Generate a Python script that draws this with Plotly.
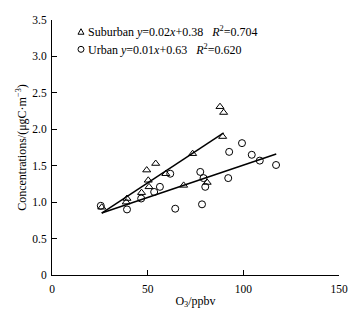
import plotly.graph_objects as go
import numpy as np

# Suburban (triangles)
sub_x = [26.0, 38.8, 39.2, 46.8, 49.5, 50.3, 50.7, 54.2, 59.5, 68.8, 73.5, 81.1, 87.8, 89.2, 89.7]
sub_y = [0.93, 1.00, 1.05, 1.13, 1.44, 1.30, 1.21, 1.53, 1.39, 1.23, 1.665, 1.27, 2.31, 1.90, 2.23]
# Urban (circles)
urb_x = [25.5, 39.2, 46.6, 53.4, 56.4, 61.8, 64.4, 77.5, 78.4, 79.2, 80.1, 92.1, 92.6, 99.3, 104.4, 108.6, 117.1]
urb_y = [0.95, 0.90, 1.05, 1.14, 1.21, 1.39, 0.91, 1.415, 0.97, 1.33, 1.21, 1.33, 1.69, 1.81, 1.65, 1.57, 1.51]

# fitted lines as drawn (slope, intercept, x-range)
sub_fit = [0.01727, 0.401]
sub_fit_x = [26.0, 89.7]
urb_fit = [0.00888, 0.619]
urb_fit_x = [26.0, 117.2]

legend_texts = [
    "Suburban\u00a0<i>y</i>=0.02<i>x</i>+0.38\u00a0\u00a0\u00a0<i>R</i><sup>2</sup>=0.704",
    "Urban\u00a0<i>y</i>=0.01<i>x</i>+0.63\u00a0\u00a0\u00a0<i>R</i><sup>2</sup>=0.620",
]
x_title = "O<sub>3</sub>/ppbv"
y_title = "Concentrations/(μgC·m<sup>−3</sup>)"
x_ticks = [0, 50, 100, 150]
y_ticks = [0, 0.5, 1.0, 1.5, 2.0, 2.5, 3.0, 3.5]
y_ticktext = ["0", "0.5", "1.0", "1.5", "2.0", "2.5", "3.0", "3.5"]

FONT = "Liberation Serif, Times New Roman, serif"

fig = go.Figure()
fig.add_trace(go.Scatter(x=sub_x, y=sub_y, mode="markers",
                         marker=dict(symbol="triangle-up-open", size=7, color="black", line=dict(width=1)),
                         showlegend=False))
fig.add_trace(go.Scatter(x=urb_x, y=urb_y, mode="markers",
                         marker=dict(symbol="circle-open", size=7, color="black", line=dict(width=1)),
                         showlegend=False))
sx = np.array(sub_fit_x)
ux = np.array(urb_fit_x)
fig.add_trace(go.Scatter(x=sx, y=sub_fit[0] * sx + sub_fit[1], mode="lines",
                         line=dict(color="black", width=1.5), showlegend=False))
fig.add_trace(go.Scatter(x=ux, y=urb_fit[0] * ux + urb_fit[1], mode="lines",
                         line=dict(color="black", width=1.5), showlegend=False))

axis_common = dict(showgrid=False, zeroline=False, showline=True, linecolor="black", linewidth=1,
                   ticks="inside", ticklen=5, tickcolor="black", tickwidth=1,
                   ticklabeloverflow="allow",
                   tickfont=dict(family=FONT, size=11.5, color="black"))

# the page has an 8px body margin, so the figure is drawn at (8,8)
fig.update_layout(
    width=346, height=303,
    margin=dict(l=44, r=6, t=7, b=34),
    paper_bgcolor="white", plot_bgcolor="white",
    font=dict(family=FONT, size=12, color="black"),
    xaxis=dict(range=[0, 150], tickvals=x_ticks, ticktext=[str(v) for v in x_ticks],
               ticklabelstandoff=3,
               title=dict(text=x_title, font=dict(family=FONT, size=12), standoff=2), **axis_common),
    yaxis=dict(range=[0, 3.5], tickvals=y_ticks, ticktext=y_ticktext,
               ticklabelstandoff=2,
               title=dict(text=y_title, font=dict(family=FONT, size=12), standoff=3), **axis_common),
)

leg_y = [0.954, 0.885]
for t, yy in zip(legend_texts, leg_y):
    fig.add_annotation(x=0.118, y=yy, xref="paper", yref="paper", text=t, showarrow=False,
                       xanchor="left", yanchor="middle", font=dict(family=FONT, size=12, color="black"))

fig.add_shape(type="path", xref="paper", yref="paper", xsizemode="pixel", ysizemode="pixel",
              xanchor=0.101, yanchor=leg_y[0], path="M-3,-2.5 L3,-2.5 L0,3 Z",
              line=dict(color="black", width=1))
fig.add_shape(type="circle", xref="paper", yref="paper", xsizemode="pixel", ysizemode="pixel",
              xanchor=0.101, yanchor=leg_y[1], x0=-3, x1=3, y0=-3, y1=3,
              line=dict(color="black", width=1))

fig.write_html("out.html")
